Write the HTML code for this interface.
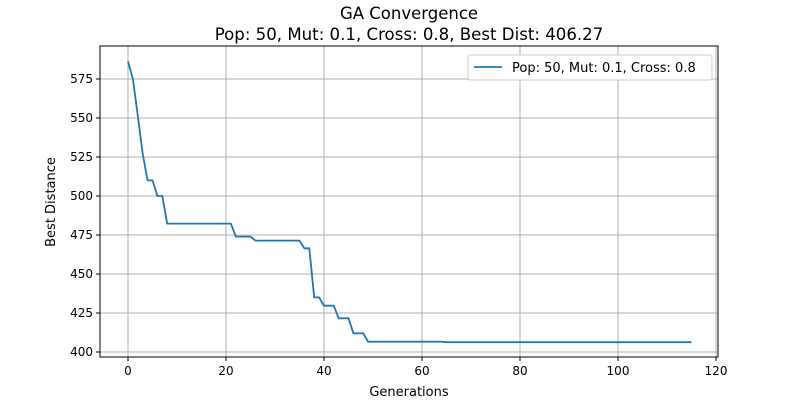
<!DOCTYPE html>
<html><head><meta charset="utf-8"><style>
body{margin:0;background:#fff;font-family:"Liberation Sans","DejaVu Sans",sans-serif}
</style></head><body>
<svg width="800" height="400" xmlns="http://www.w3.org/2000/svg" font-family="DejaVu Sans, Liberation Sans, sans-serif">
<rect width="800" height="400" fill="#fff"/>
<text x="409" y="19" text-anchor="middle" font-size="16.5">GA Convergence</text>
<text x="409" y="40" text-anchor="middle" font-size="16.6">Pop: 50, Mut: 0.1, Cross: 0.8, Best Dist: 406.27</text>
<g id="grid"></g>
<g id="ticks"></g>
<path id="line" fill="none" stroke="#1f77b4" stroke-width="1.8"/>
<rect x="100" y="46" width="618" height="311" fill="none" stroke="#000" stroke-width="1"/>
<text x="409" y="396" text-anchor="middle" font-size="13">Generations</text>
<text transform="translate(55,202) rotate(-90)" text-anchor="middle" font-size="13">Best Distance</text>
<g>
<rect x="468" y="55" width="244" height="25" rx="3" fill="#fff" stroke="#ccc"/>
<line x1="474" y1="67" x2="502" y2="67" stroke="#1f77b4" stroke-width="1.8"/>
<text x="512" y="72" font-size="13">Pop: 50, Mut: 0.1, Cross: 0.8</text>
</g>
</svg>
<script>
const values=[586.3,575,551.5,527,510,510,500,500,482.3,482.3,482.3,482.3,482.3,482.3,482.3,482.3,482.3,482.3,482.3,482.3,482.3,482.3,474,474,474,474,471.4,471.4,471.4,471.4,471.4,471.4,471.4,471.4,471.4,471.4,466.5,466.5,435,435,429.7,429.7,429.7,421.6,421.6,421.6,412,412,412];
while(values.length<65) values.push(406.6);
while(values.length<116) values.push(406.27);
const xTicks=[0,20,40,60,80,100,120];
const yTicks=[400,425,450,475,500,525,550,575];
const ns="http://www.w3.org/2000/svg";
const X=v=>128+v*4.9, Y=v=>352-(v-400)*1.56;
const grid=document.getElementById('grid'),ticks=document.getElementById('ticks');
function mk(tag,attrs,parent){const e=document.createElementNS(ns,tag);for(const k in attrs)e.setAttribute(k,attrs[k]);parent.appendChild(e);return e;}
xTicks.forEach(t=>{const x=X(t);
const g=mk('line',{x1:x,x2:x,y1:46,y2:357,stroke:'#b0b0b0','stroke-width':1},grid);


mk('line',{x1:x,x2:x,y1:357,y2:361,stroke:'#000'},ticks);
const tx=mk('text',{x:x,y:375,'text-anchor':'middle','font-size':12},ticks);tx.textContent=t;

});
yTicks.forEach(t=>{const y=Y(t);
const g=mk('line',{x1:100,x2:718,y1:y,y2:y,stroke:'#b0b0b0','stroke-width':1},grid);


mk('line',{x1:96,x2:100,y1:y,y2:y,stroke:'#000'},ticks);
const tx=mk('text',{x:93,y:y+4,'text-anchor':'end','font-size':12},ticks);tx.textContent=t;

});
document.getElementById('line').setAttribute('d',values.map((v,i)=>(i?'L':'M')+X(i).toFixed(1)+','+Y(v).toFixed(1)).join(''));
</script>
</body></html>
